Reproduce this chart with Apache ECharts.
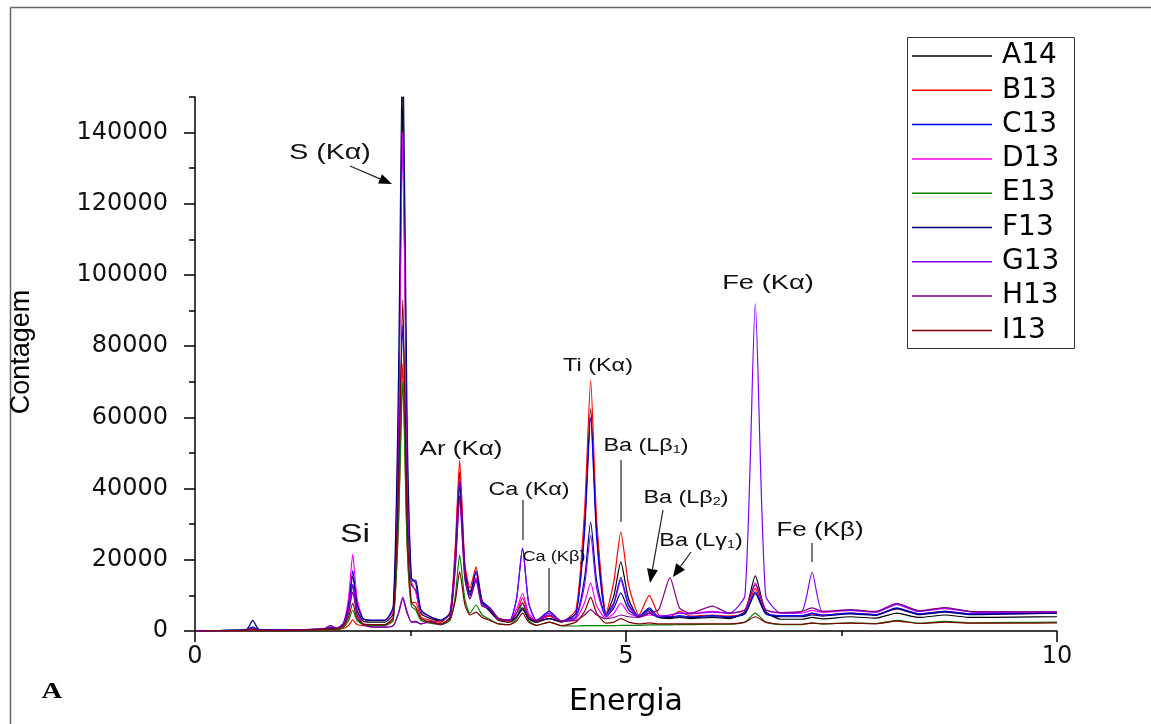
<!DOCTYPE html>
<html>
<head>
<meta charset="utf-8">
<script src="https://cdn.jsdelivr.net/npm/echarts@6/dist/echarts.min.js"></script>
<style>
  html, body { margin: 0; padding: 0; background: #fff; }
  #chart { width: 1151px; height: 724px; }
</style>
</head>
<body>
<div id="chart"></div>
<script>
// Energy channels (keV) shared by all spectra
const energia = [
  0, 0.3, 0.6, 0.67, 0.74, 1.0, 1.3, 1.5, 1.57, 1.64,
  1.72, 1.78, 1.83, 1.88, 1.95, 2.05, 2.2, 2.3, 2.36, 2.41,
  2.46, 2.51, 2.56, 2.62, 2.73, 2.85, 2.96, 3.02, 3.07, 3.13,
  3.19, 3.26, 3.33, 3.42, 3.52, 3.65, 3.73, 3.80, 3.87, 3.96,
  4.11, 4.25, 4.42, 4.52, 4.59, 4.66, 4.77, 4.86, 4.94, 5.03,
  5.15, 5.27, 5.38, 5.51, 5.62, 5.75, 6.0, 6.2, 6.38, 6.5,
  6.62, 6.8, 7.04, 7.16, 7.28, 7.6, 7.9, 8.14, 8.4, 8.7,
  9.0, 9.5, 10
];

const amostras = ['A14', 'B13', 'C13', 'D13', 'E13', 'F13', 'G13', 'H13', 'I13'];

// Counts per sample at each energy channel
const A14 = [
  0, 100, 300, 900, 300, 200, 300, 500, 800, 600,
  1500, 5500, 13000, 6000, 2800, 2500, 2500, 5000, 55000, 150000,
  45000, 13000, 11500, 5000, 3500, 2800, 5000, 22000, 44600, 18000,
  11000, 14500, 8000, 5500, 3000, 2500, 4000, 6500, 3500, 2400,
  3500, 2500, 5000, 30000, 62500, 28000, 4500, 10000, 19400, 9000,
  4000, 6000, 3800, 3500, 3800, 3500, 3800, 3500, 5500, 15500,
  5500, 3300, 3300, 3800, 3400, 4000, 3600, 5000, 3800, 4500,
  3800, 3900, 4000
];
const B13 = [
  0, 0, 100, 300, 100, 100, 200, 300, 400, 400,
  700, 1500, 3100, 1800, 1500, 1500, 1600, 3500, 30000, 75000,
  25000, 8000, 8000, 4000, 3000, 2500, 5500, 24000, 48000, 19000,
  12000, 18000, 8500, 6000, 3200, 2700, 5000, 9300, 4500, 2600,
  4200, 2600, 6000, 34000, 70400, 31000, 5000, 14000, 27800, 13000,
  4500, 10000, 4500, 4000, 5500, 4200, 4500, 4200, 5000, 12000,
  5000, 4300, 4300, 4800, 4500, 5000, 4600, 6200, 4800, 5500,
  4800, 4900, 5000
];
const C13 = [
  0, 100, 300, 1200, 400, 300, 400, 600, 900, 700,
  2000, 7500, 17000, 8000, 3500, 3000, 3000, 6000, 45000, 86000,
  40000, 14000, 14300, 6000, 4000, 3000, 5000, 20000, 41500, 17000,
  10000, 17000, 8500, 6500, 3500, 3000, 9000, 23300, 8000, 3000,
  5500, 2800, 5000, 28000, 60000, 26000, 4500, 8000, 15000, 7500,
  4200, 6500, 4000, 4000, 4300, 4000, 4300, 4000, 5000, 11000,
  5000, 4300, 4300, 5000, 4500, 5000, 4600, 6500, 4800, 5500,
  4800, 4900, 5000
];
const D13 = [
  0, 100, 200, 600, 200, 200, 400, 600, 900, 700,
  2200, 9000, 21500, 9000, 3500, 3000, 3000, 6000, 60000, 140000,
  50000, 14000, 11000, 5500, 4000, 3000, 5000, 21000, 43000, 17000,
  10000, 15000, 8000, 6000, 3500, 3000, 6000, 10600, 5000, 3000,
  4500, 2800, 3500, 8000, 13500, 7000, 3500, 5000, 7800, 5000,
  4000, 4500, 4200, 4500, 5000, 5000, 5500, 5000, 6000, 13500,
  6000, 5000, 5000, 5800, 5200, 5800, 5300, 7500, 5500, 6300,
  5400, 5300, 5300
];
const E13 = [
  0, 0, 100, 500, 100, 100, 200, 300, 500, 400,
  1000, 2800, 5900, 3000, 1800, 1500, 1500, 3000, 30000, 70000,
  25000, 7000, 5900, 3000, 2200, 1800, 3000, 10000, 21300, 9000,
  5000, 7300, 4500, 3200, 2000, 1800, 3500, 7800, 3000, 1600,
  2500, 1500, 1400, 1500, 1500, 1500, 1500, 1500, 1600, 1600,
  1600, 1700, 1700, 1700, 1800, 1800, 1900, 1900, 2500, 5000,
  2500, 1800, 1800, 2300, 2000, 2300, 2100, 3000, 2200, 2700,
  2300, 2400, 2500
];
const F13 = [
  0, 200, 500, 3000, 500, 300, 400, 600, 900, 700,
  2000, 7000, 15500, 7500, 3500, 3000, 3000, 7000, 70000, 170000,
  60000, 15000, 13500, 6000, 4000, 3000, 5000, 20000, 42000, 17000,
  10000, 16500, 8000, 6000, 3500, 3000, 4000, 6000, 3500, 2800,
  3500, 2800, 4000, 15000, 30600, 14000, 4000, 6500, 10700, 6000,
  4000, 5000, 3800, 3800, 4000, 3800, 4000, 3800, 4800, 10500,
  4800, 4000, 4000, 4500, 4200, 4800, 4400, 6300, 4600, 5300,
  4600, 4800, 5000
];
const G13 = [
  0, 100, 200, 700, 200, 200, 400, 700, 1500, 800,
  1800, 6000, 13000, 5500, 2000, 1200, 1100, 1500, 5000, 9500,
  5500, 2500, 2500, 2000, 2800, 1800, 4000, 18000, 37600, 15000,
  9000, 14300, 7000, 6500, 3500, 3000, 9000, 23300, 8000, 3000,
  5000, 2800, 4000, 13000, 26900, 12000, 4000, 7500, 14300, 7000,
  4200, 5500, 4200, 4500, 5000, 4800, 5300, 5000, 10000, 92000,
  10000, 5000, 5500, 16500, 5500, 5800, 5300, 7500, 5500, 6500,
  5400, 5300, 5300
];
const H13 = [
  0, 100, 200, 700, 200, 200, 400, 700, 1500, 800,
  1600, 5000, 11000, 4500, 1800, 1100, 1100, 1500, 4800, 9000,
  5000, 2500, 2800, 2000, 2500, 1800, 4000, 18000, 38000, 15000,
  9000, 14300, 7000, 6500, 3500, 3000, 5000, 8000, 4000, 3000,
  4500, 2800, 3000, 4500, 6000, 4500, 3500, 3800, 4500, 4000,
  3800, 5000, 6000, 15000, 6500, 5000, 7000, 5000, 6000, 13000,
  6000, 5200, 5500, 6500, 5500, 6000, 5500, 7800, 5700, 6600,
  5500, 5400, 5400
];
const I13 = [
  0, 100, 200, 500, 200, 100, 300, 400, 600, 500,
  1400, 3800, 7800, 3500, 2000, 1800, 1800, 4000, 40000, 93000,
  32000, 8000, 6700, 3500, 2500, 2000, 3500, 8500, 16600, 7500,
  4500, 5300, 3800, 3000, 2000, 1800, 2800, 5000, 2500, 1600,
  2500, 1500, 2500, 5500, 9500, 5000, 2200, 2500, 3500, 2500,
  2000, 2300, 2000, 2000, 2000, 2000, 2000, 2000, 2500, 4000,
  2500, 1900, 1900, 2200, 2000, 2200, 2000, 2800, 2100, 2500,
  2200, 2200, 2300
];

const contagens = [A14, B13, C13, D13, E13, F13, G13, H13, I13];
const cores = ['#000000', '#ff0000', '#0000ff', '#ff00ff', '#008000', '#000080', '#8000ff', '#800080', '#800000'];

// Axis ticks and labels
const xTickLabels = [0, 5, 10];
const yTickLabels = [0, 20000, 40000, 60000, 80000, 100000, 120000, 140000];

// Peak annotations: label text and where it sits on the page
const rotulos = ['S (Kα)', 'Si', 'Ar (Kα)', 'Ca (Kα)', 'Ca (Kβ)', 'Ti (Kα)',
  'Ba (Lβ{s|1})', 'Ba (Lβ{s|2})', 'Ba (Lγ{s|1})', 'Fe (Kα)', 'Fe (Kβ)'];
const rotuloLayout = [
  [330, 153, 22], [355, 535, 26], [461, 449, 20], [529, 490, 18], [554, 557, 14],
  [598, 366, 18], [646, 446, 18], [686, 498, 18], [701, 541, 18], [768, 283, 21], [820, 530, 20]
];

const textFont = 'Liberation Sans, Arial, sans-serif';
const graphic = [];

// page frame (top and left edges)
graphic.push({ type: 'line', shape: { x1: 10.5, y1: 7.5, x2: 1151, y2: 7.5 }, style: { stroke: '#666', lineWidth: 1.5 } });
graphic.push({ type: 'line', shape: { x1: 10.5, y1: 7.5, x2: 10.5, y2: 724 }, style: { stroke: '#666', lineWidth: 1.5 } });
// legend frame
graphic.push({ type: 'rect', shape: { x: 907.5, y: 37.5, width: 167, height: 311 }, style: { fill: 'none', stroke: '#333', lineWidth: 1 }, z: 10 });

rotulos.forEach((t, i) => {
  const [x, y, fs] = rotuloLayout[i];
  graphic.push({
    type: 'text', x: x, y: y, scaleX: 1.3, z: 20,
    style: {
      text: t, fontFamily: textFont, fontSize: fs, fill: '#111',
      align: 'center', verticalAlign: 'middle',
      rich: { s: { fontFamily: textFont, fontSize: Math.round(fs * 0.6), fill: '#111', verticalAlign: 'bottom', padding: [8, 0, 0, 0] } }
    }
  });
});

// plain leader lines
[[523, 500, 523, 540], [549, 568, 549, 612], [621, 460, 621, 522], [812, 543, 812, 562]].forEach(l => {
  graphic.push({ type: 'line', shape: { x1: l[0], y1: l[1], x2: l[2], y2: l[3] }, style: { stroke: '#222', lineWidth: 1.2 }, z: 20 });
});

// arrows
function seta(x1, y1, x2, y2, len, half) {
  const dx = x2 - x1, dy = y2 - y1, d = Math.hypot(dx, dy), ux = dx / d, uy = dy / d;
  const bx = x2 - ux * len, by = y2 - uy * len;
  graphic.push({ type: 'line', shape: { x1: x1, y1: y1, x2: bx, y2: by }, style: { stroke: '#222', lineWidth: 1.2 }, z: 20 });
  graphic.push({ type: 'polygon', shape: { points: [[x2, y2], [bx - uy * half, by + ux * half], [bx + uy * half, by - ux * half]] }, style: { fill: '#000' }, z: 20 });
}
seta(350, 166, 392, 184, 13, 5);
seta(663, 510, 650, 583, 14, 5.5);
seta(691, 552, 673, 577, 13, 5.5);

// panel letter
graphic.push({
  type: 'text', x: 52, y: 692, scaleX: 1.25, z: 20,
  style: { text: 'A', fontFamily: 'Liberation Serif, Times New Roman, serif', fontWeight: 'bold', fontSize: 23, fill: '#000', align: 'center', verticalAlign: 'middle' }
});

const series = amostras.map((nome, k) => ({
  name: nome,
  type: 'line',
  xAxisIndex: 0,
  yAxisIndex: 0,
  data: energia.map((e, i) => [e, contagens[k][i]]),
  showSymbol: false,
  symbol: 'none',
  smooth: 0.2,
  lineStyle: { width: 1.2, color: cores[k] },
  itemStyle: { color: cores[k] },
  emphasis: { disabled: true },
  animation: false
}));

const axisFont = 'DejaVu Sans, sans-serif';
const chart = echarts.init(document.getElementById('chart'));
chart.setOption({
  backgroundColor: '#fff',
  animation: false,
  color: cores,
  grid: { left: 195, right: 94, top: 97, bottom: 93, containLabel: false },
  legend: {
    orient: 'vertical', left: 912, top: 41, padding: 0,
    icon: 'rect', itemWidth: 80, itemHeight: 1.5, itemGap: 4.3,
    selectedMode: false,
    textStyle: { fontFamily: axisFont, fontSize: 28, lineHeight: 30, color: '#000', padding: [0, 0, 0, 5] },
    data: amostras
  },
  xAxis: [
    {
      type: 'value', position: 'bottom', min: 0, max: 10, interval: 2.5,
      name: 'Energia', nameLocation: 'middle', nameGap: 56,
      nameTextStyle: { fontFamily: axisFont, fontSize: 30, color: '#000' },
      axisLine: { show: true, lineStyle: { color: '#000', width: 1.5 } },
      axisTick: { show: true, length: 5, lineStyle: { color: '#000', width: 1.5 } },
      axisLabel: { customValues: xTickLabels, margin: 14, fontFamily: axisFont, fontSize: 24, color: '#111' },
      splitLine: { show: false }
    },
    {
      type: 'value', position: 'bottom', min: 0, max: 10,
      axisLine: { show: false },
      axisTick: { show: true, customValues: xTickLabels, length: 11, lineStyle: { color: '#000', width: 1.5 } },
      axisLabel: { show: false },
      splitLine: { show: false }
    }
  ],
  yAxis: [
    {
      type: 'value', position: 'left', min: 0, max: 150000, interval: 10000,
      name: 'Contagem', nameLocation: 'middle', nameGap: 160, nameRotate: 90,
      nameTextStyle: { fontFamily: textFont, fontSize: 27, color: '#000', padding: [0, 0, 0, 24] },
      axisLine: { show: true, lineStyle: { color: '#000', width: 1.5 } },
      axisTick: { show: true, length: 6, lineStyle: { color: '#000', width: 1.5 } },
      axisLabel: { customValues: yTickLabels, margin: 27, fontFamily: axisFont, fontSize: 24, color: '#111', formatter: v => String(v) },
      splitLine: { show: false }
    },
    {
      type: 'value', position: 'left', min: 0, max: 150000,
      axisLine: { show: false },
      axisTick: { show: true, customValues: yTickLabels, length: 11, lineStyle: { color: '#000', width: 1.5 } },
      axisLabel: { show: false },
      splitLine: { show: false }
    }
  ],
  graphic: graphic,
  series: series
});
</script>
</body>
</html>
